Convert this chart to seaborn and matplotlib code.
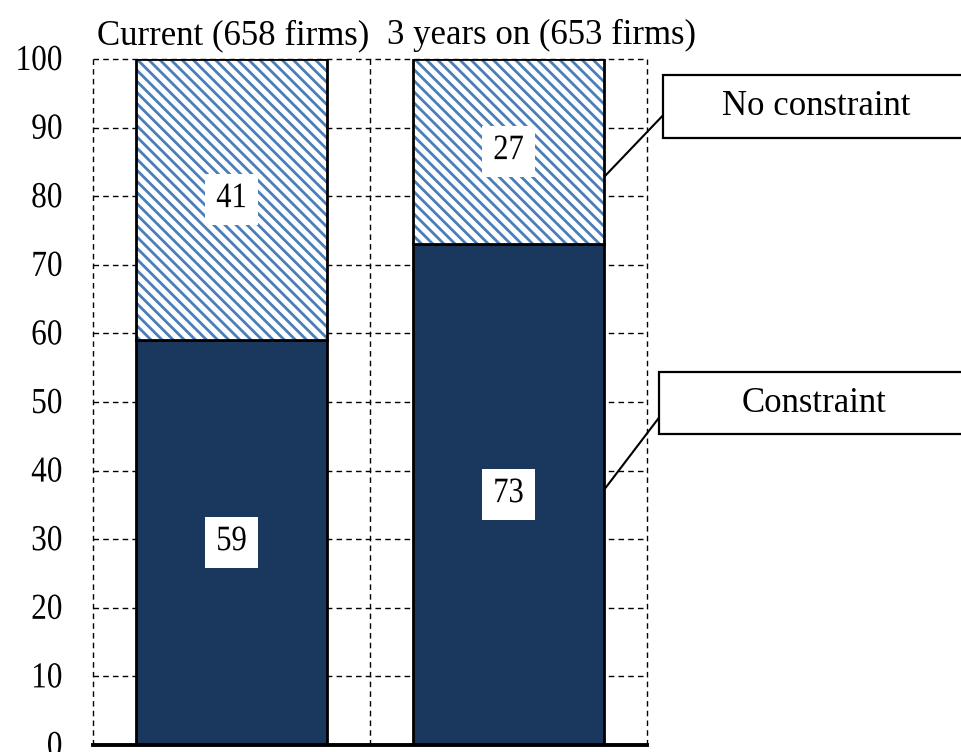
import matplotlib
matplotlib.use("Agg")
import matplotlib.pyplot as plt
from matplotlib.patches import Rectangle
from matplotlib.patheffects import AbstractPathEffect
from matplotlib.transforms import Affine2D
import seaborn as sns

# Share of firms (%) reporting a constraint, now and three years on
categories = ["Current (658 firms)", "3 years on (653 firms)"]
constraint = [59, 73]
no_constraint = [41, 27]
series_names = ["Constraint", "No constraint"]
y_ticks = list(range(0, 101, 10))

DARK = "#1a375e"
HATCH_BLUE = "#4a7ebb"
FONT = ["Liberation Serif", "DejaVu Serif"]


class TallGlyphs(AbstractPathEffect):
    """Draw text glyphs stretched vertically about their baseline."""

    def __init__(self, sy=1.2):
        super().__init__()
        self.sy = sy

    def draw_path(self, renderer, gc, tpath, affine, rgbFace=None):
        renderer.draw_path(gc, tpath, Affine2D().scale(1, self.sy) + affine, rgbFace)


TALL = [TallGlyphs(1.17)]

sns.set_theme(style="white")
plt.rcParams["font.family"] = FONT
plt.rcParams["hatch.linewidth"] = 2.0

fig = plt.figure(figsize=(9.62, 7.52), dpi=100)
ax = fig.add_axes([93 / 962, 7 / 752, 554 / 962, 686 / 752])

bar_w = 0.69

# lower segment: constraint
sns.barplot(x=categories, y=constraint, color=DARK, saturation=1, width=bar_w,
            edgecolor="black", linewidth=2, errorbar=None, ax=ax, zorder=2)
# upper segment: no constraint, hatched
sns.barplot(x=categories, y=no_constraint, bottom=constraint, color="white",
            saturation=1, width=bar_w, edgecolor=HATCH_BLUE, linewidth=0,
            hatch="\\\\\\", errorbar=None, ax=ax, zorder=2)
# outline of the upper segment
sns.barplot(x=categories, y=no_constraint, bottom=constraint, color="white",
            facecolor="none", saturation=1, width=bar_w, edgecolor="black",
            linewidth=2, errorbar=None, ax=ax, zorder=3)

ax.set_xlim(-0.5, 1.5)
ax.set_ylim(0, 100)

# dashed grid
for y in y_ticks[1:]:
    ax.axhline(y, color="black", lw=1, ls=(0, (4, 3)), zorder=1, clip_on=False)
for x in [-0.5, 0.5, 1.5]:
    ax.axvline(x, color="black", lw=1, ls=(0, (4, 3)), zorder=1, clip_on=False)

for side in ["left", "right", "top"]:
    ax.spines[side].set_visible(False)
ax.spines["bottom"].set_color("black")
ax.spines["bottom"].set_linewidth(2.8)
ax.spines["bottom"].set_zorder(5)

ax.set_yticks(y_ticks)
ax.set_yticklabels([str(v) for v in y_ticks])
ax.tick_params(axis="y", length=0, pad=22, labelsize=22.5, labelcolor="black")
for lbl in ax.get_yticklabels():
    lbl.set_path_effects(TALL)

# category names above the bars
ax.set_xticks(range(len(categories)))
ax.set_xticklabels([])
ax.tick_params(axis="x", length=0)
ax.set_xlabel("")
ax.set_ylabel("")
cat_shift = [2, 33]
for i, cat in enumerate(categories):
    ax.annotate(cat, xy=(i, 1), xycoords=("data", "axes fraction"),
                xytext=(cat_shift[i], 15), textcoords="offset pixels",
                ha="center", va="baseline", fontsize=25, color="black",
                annotation_clip=False)

# value labels in white boxes
for i in range(len(categories)):
    lo = constraint[i]
    hi = no_constraint[i]
    for val, mid in [(lo, lo / 2), (hi, lo + hi / 2)]:
        t = ax.text(i, mid, f"{val}", ha="center", va="center", fontsize=22,
                    color="black", zorder=6,
                    bbox=dict(boxstyle="square,pad=0.36", facecolor="white",
                              edgecolor="none"))
        t.set_path_effects(TALL)

# callout boxes naming each series
bar_right = 1 + bar_w / 2
callouts = [
    (series_names[1], 82.8, 91.8, 88.5, 97.7, 1.558),
    (series_names[0], 37.2, 47.7, 45.3, 54.4, 1.543),
]
box_right = 2.662
for name, y_from, y_to, y_bot, y_top, x_left in callouts:
    ax.plot([bar_right, x_left], [y_from, y_to], color="black", lw=1.5,
            clip_on=False, zorder=6, solid_capstyle="butt")
    ax.add_patch(Rectangle((x_left, y_bot), box_right - x_left, y_top - y_bot,
                           facecolor="white", edgecolor="black", lw=1.6,
                           clip_on=False, zorder=6))
    ax.text((x_left + box_right) / 2, (y_bot + y_top) / 2, name,
            ha="center", va="center", fontsize=25, color="black",
            zorder=7, clip_on=False)

fig.savefig("out.png", dpi=100)
